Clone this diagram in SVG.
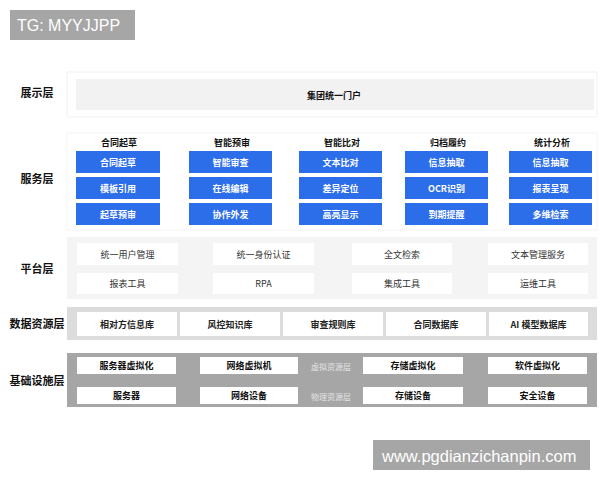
<svg xmlns="http://www.w3.org/2000/svg" width="600" height="480" viewBox="0 0 600 480">
<style>
text{font-family:"Noto Sans CJK SC","Noto Sans",sans-serif;text-anchor:middle;dominant-baseline:central}
.lbl{font-size:11px;font-weight:700;fill:#111}
.hdr{font-size:9px;font-weight:700;fill:#111}
.blue rect{fill:#2c6de9}
.blue text{font-size:9px;font-weight:700;fill:#fff}
.wb{fill:#fff}
.pt{font-size:9px;fill:#333}
.dt{font-size:9px;font-weight:700;fill:#222}
.it{font-size:9px;font-weight:700;fill:#111}
.sm{font-size:8px;fill:#e4e4e4}
.wm{font-family:"Liberation Sans",Arial,sans-serif;font-size:16px;fill:#fff;text-anchor:start}
</style>
<rect width="600" height="480" fill="#fff"/>
<g id="tg"><rect x="10" y="10" width="125" height="30" fill="#a6a6a6"/><text class="wm" x="17" y="25.5">TG: MYYJJPP</text></g>

<g id="display">
<text class="lbl" x="37" y="92">展示层</text>
<rect x="67" y="72" width="530" height="45" fill="#fff" stroke="#f2f2f2"/>
<rect x="76" y="79" width="518" height="31" fill="#f2f2f2"/>
<text class="hdr" x="334" y="95">集团统一门户</text>
</g>

<g id="service">
<text class="lbl" x="37" y="178">服务层</text>
<rect x="67" y="133" width="530" height="97" fill="#fff" stroke="#f3f3f3"/>
<text class="hdr" x="119" y="142">合同起草</text>
<text class="hdr" x="232" y="142">智能预审</text>
<text class="hdr" x="342" y="142">智能比对</text>
<text class="hdr" x="448" y="142">归档履约</text>
<text class="hdr" x="552" y="142">统计分析</text>
<g class="blue">
<rect x="76" y="151" width="84" height="22"/><text x="118" y="162">合同起草</text>
<rect x="76" y="177" width="84" height="22"/><text x="118" y="188">模板引用</text>
<rect x="76" y="203" width="84" height="22"/><text x="118" y="214">起草预审</text>
<rect x="189" y="151" width="83" height="22"/><text x="230.5" y="162">智能审查</text>
<rect x="189" y="177" width="83" height="22"/><text x="230.5" y="188">在线编辑</text>
<rect x="189" y="203" width="83" height="22"/><text x="230.5" y="214">协作外发</text>
<rect x="299" y="151" width="83" height="22"/><text x="340.5" y="162">文本比对</text>
<rect x="299" y="177" width="83" height="22"/><text x="340.5" y="188">差异定位</text>
<rect x="299" y="203" width="83" height="22"/><text x="340.5" y="214">高亮显示</text>
<rect x="405" y="151" width="83" height="22"/><text x="446.5" y="162">信息抽取</text>
<rect x="405" y="177" width="83" height="22"/><text x="446.5" y="188">OCR识别</text>
<rect x="405" y="203" width="83" height="22"/><text x="446.5" y="214">到期提醒</text>
<rect x="509" y="151" width="83" height="22"/><text x="550.5" y="162">信息抽取</text>
<rect x="509" y="177" width="83" height="22"/><text x="550.5" y="188">报表呈现</text>
<rect x="509" y="203" width="83" height="22"/><text x="550.5" y="214">多维检索</text>
</g>
</g>

<g id="platform">
<text class="lbl" x="37" y="268">平台层</text>
<rect x="67" y="237" width="530" height="62" fill="#f4f4f4"/>
<rect class="wb" x="77" y="243" width="101" height="22"/><text class="pt" x="127.5" y="254">统一用户管理</text>
<rect class="wb" x="213" y="243" width="101" height="22"/><text class="pt" x="263.5" y="254">统一身份认证</text>
<rect class="wb" x="352" y="243" width="100" height="22"/><text class="pt" x="402" y="254">全文检索</text>
<rect class="wb" x="488" y="243" width="100" height="22"/><text class="pt" x="538" y="254">文本管理服务</text>
<rect class="wb" x="77" y="273" width="101" height="21"/><text class="pt" x="127.5" y="283.5">报表工具</text>
<rect class="wb" x="213" y="273" width="101" height="21"/><text class="pt" x="263.5" y="283.5">RPA</text>
<rect class="wb" x="352" y="273" width="100" height="21"/><text class="pt" x="402" y="283.5">集成工具</text>
<rect class="wb" x="488" y="273" width="100" height="21"/><text class="pt" x="538" y="283.5">运维工具</text>
</g>

<g id="data">
<text class="lbl" x="37" y="323">数据资源层</text>
<rect x="67" y="307" width="530" height="33" fill="#dcdcdc"/>
<rect class="wb" x="77" y="312" width="100" height="24"/><text class="dt" x="127" y="324">相对方信息库</text>
<rect class="wb" x="180" y="312" width="100" height="24"/><text class="dt" x="230" y="324">风控知识库</text>
<rect class="wb" x="283" y="312" width="100" height="24"/><text class="dt" x="333" y="324">审查规则库</text>
<rect class="wb" x="386" y="312" width="100" height="24"/><text class="dt" x="436" y="324">合同数据库</text>
<rect class="wb" x="489" y="312" width="99" height="24"/><text class="dt" x="538.5" y="324">AI 模型数据库</text>
</g>

<g id="infra">
<text class="lbl" x="37" y="380">基础设施层</text>
<rect x="67" y="353" width="530" height="54" fill="#a6a6a6"/>
<rect class="wb" x="77" y="357" width="99" height="17"/><text class="it" x="126.5" y="365.5">服务器虚拟化</text>
<rect class="wb" x="200" y="357" width="98" height="17"/><text class="it" x="249" y="365.5">网络虚拟机</text>
<text class="sm" x="331" y="366">虚拟资源层</text>
<rect class="wb" x="363" y="357" width="100" height="17"/><text class="it" x="413" y="365.5">存储虚拟化</text>
<rect class="wb" x="488" y="357" width="99" height="17"/><text class="it" x="537.5" y="365.5">软件虚拟化</text>
<rect class="wb" x="77" y="387" width="99" height="17"/><text class="it" x="126.5" y="395.5">服务器</text>
<rect class="wb" x="200" y="387" width="98" height="17"/><text class="it" x="249" y="395.5">网络设备</text>
<text class="sm" x="331" y="396">物理资源层</text>
<rect class="wb" x="363" y="387" width="100" height="17"/><text class="it" x="413" y="395.5">存储设备</text>
<rect class="wb" x="488" y="387" width="99" height="17"/><text class="it" x="537.5" y="395.5">安全设备</text>
</g>

<g id="watermark"><rect x="373" y="440" width="217" height="30" fill="#a6a6a6"/><text class="wm" x="382" y="455.5" style="font-size:16.5px">www.pgdianzichanpin.com</text></g>
</svg>
